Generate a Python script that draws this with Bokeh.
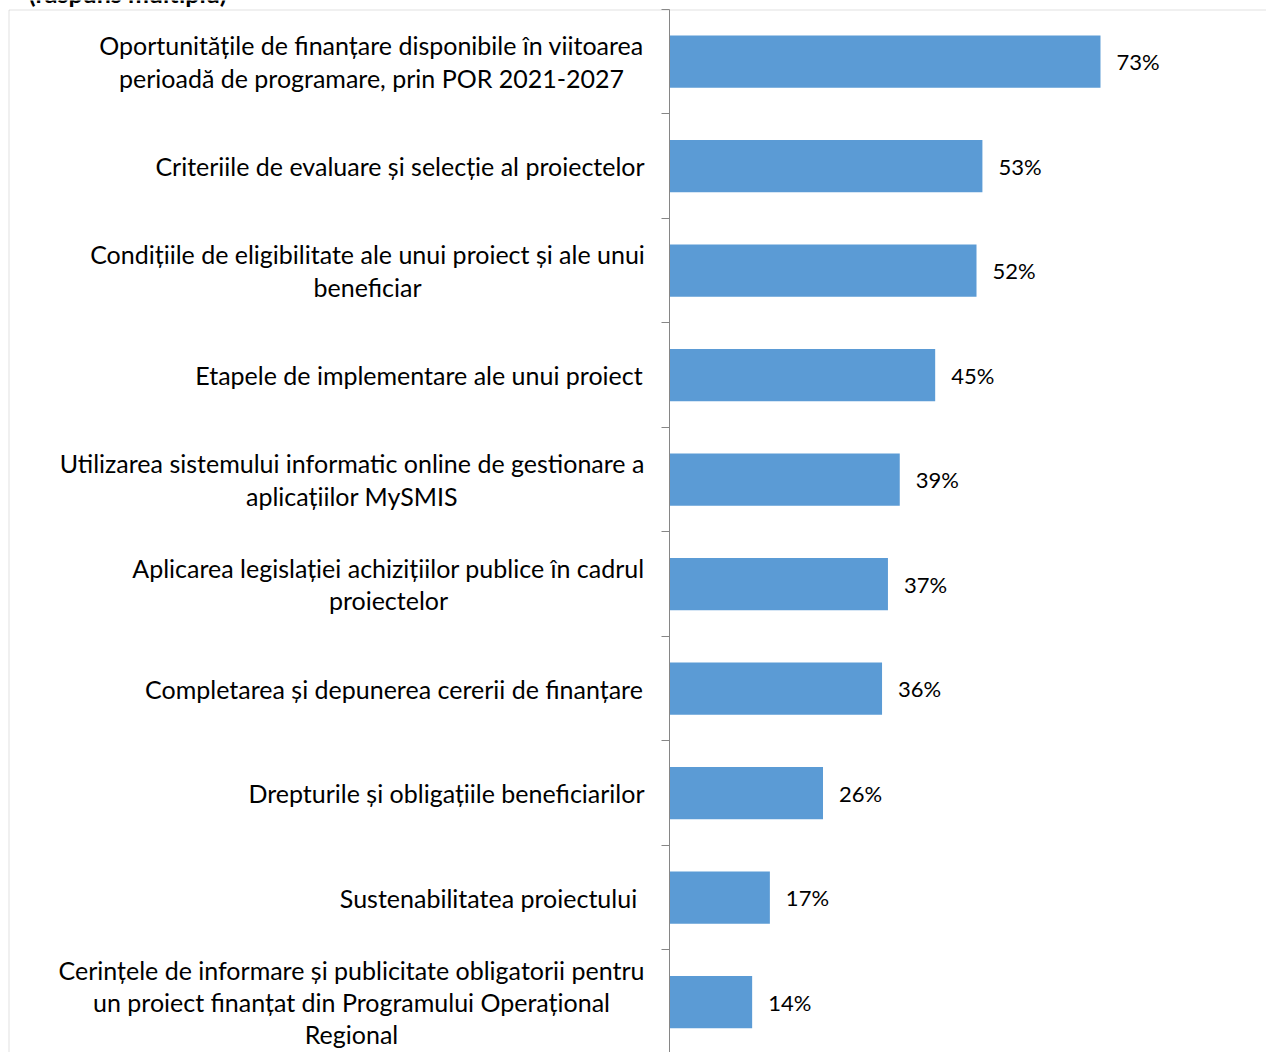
from bokeh.plotting import figure
from bokeh.models import ColumnDataSource, Range1d, FixedTicker, BoxAnnotation, CustomJSTickFormatter
from bokeh.core.properties import value
from bokeh.embed import file_html
from bokeh.resources import INLINE

# ---- data ----
categories = [
    "Oportunitățile de finanțare disponibile în viitoarea\nperioadă de programare, prin POR 2021-2027",
    "Criteriile de evaluare și selecție al proiectelor",
    "Condițiile de eligibilitate ale unui proiect și ale unui\nbeneficiar",
    "Etapele de implementare ale unui proiect",
    "Utilizarea sistemului informatic online de gestionare a\naplicațiilor MySMIS",
    "Aplicarea legislației achizițiilor publice în cadrul\nproiectelor",
    "Completarea și depunerea cererii de finanțare",
    "Drepturile și obligațiile beneficiarilor",
    "Sustenabilitatea proiectului",
    "Cerințele de informare și publicitate obligatorii pentru\nun proiect finanțat din Programului Operațional\nRegional",
]
values = [73, 53, 52, 45, 39, 37, 36, 26, 17, 14]
value_labels = [f"{v}%" for v in values]
title_text = "(răspuns multiplu)"

# ---- layout (page pixels) ----
W, H = 1266, 1052
zero_px = 669          # x pixel of 0 %
px_per_pct = 5.904
top_px = 8.75          # y pixel of first category boundary
cat_px = 104.5         # pixel height of one category band
label_centers_px = [371, 399.5, 367, 418.5, 351.5, 388, 393.5, 446, 488, 351]

FONT = "Lato"
CAT_SIZE = "25px"
VAL_SIZE = "22px"


def px_to_x(px):
    return (px - zero_px) / px_per_pct


def px_to_y(py):
    return (py - top_px) / cat_px - 0.5


idx = list(range(len(categories)))

src = ColumnDataSource(dict(
    y=idx,
    v=values,
    vl=value_labels,
    cat=categories,
    lx=[px_to_x(c) for c in label_centers_px],
))

p = figure(
    width=W, height=H,
    x_range=Range1d(px_to_x(0), px_to_x(W)),
    y_range=Range1d(px_to_y(H), px_to_y(0)),
    output_backend="svg", toolbar_location=None,
    min_border_left=0, min_border_right=0,
    min_border_top=0, min_border_bottom=0,
)
p.outline_line_color = None
p.xgrid.visible = False
p.ygrid.visible = False
p.xaxis.visible = False
p.background_fill_color = "white"
p.border_fill_color = "white"

# chart-area border (left and top edges visible)
p.add_layout(BoxAnnotation(
    left=px_to_x(8.5), right=px_to_x(W + 50),
    top=px_to_y(9.5), bottom=px_to_y(H + 50),
    fill_color=None, line_color="#9a9a9a", line_width=1,
))

p.hbar(y="y", left=0, right="v", height=0.5, source=src,
       fill_color="#5B9BD5", line_color=None)

yax = p.yaxis[0]
yax.fixed_location = 0
yax.bounds = (-0.5, px_to_y(H + 10))
yax.ticker = FixedTicker(ticks=[i - 0.5 for i in range(len(categories) + 1)])
yax.formatter = CustomJSTickFormatter(code="return ''")
yax.major_tick_out = 8
yax.major_tick_in = 0
yax.minor_tick_out = 0
yax.minor_tick_in = 0
yax.axis_line_color = "#868686"
yax.major_tick_line_color = "#868686"

p.text(x="lx", y="y", text="cat", source=src,
       text_align="center", text_baseline="middle",
       text_font=value(FONT), text_font_size=CAT_SIZE, text_color="#000000",
       text_line_height=1.08)

p.text(x="v", y="y", text="vl", source=src, x_offset=16,
       text_align="left", text_baseline="middle",
       text_font=value(FONT), text_font_size=VAL_SIZE, text_color="#000000")

# partially visible bold subtitle at the very top (cut off, as in the source)
p.text(x=[px_to_x(226)], y=[px_to_y(-8)], text=[title_text],
       text_align="right", text_baseline="alphabetic",
       text_font=value(FONT), text_font_size=CAT_SIZE, text_font_style="bold",
       text_color="#000000")

open("out.html", "w").write(file_html(p, INLINE))
